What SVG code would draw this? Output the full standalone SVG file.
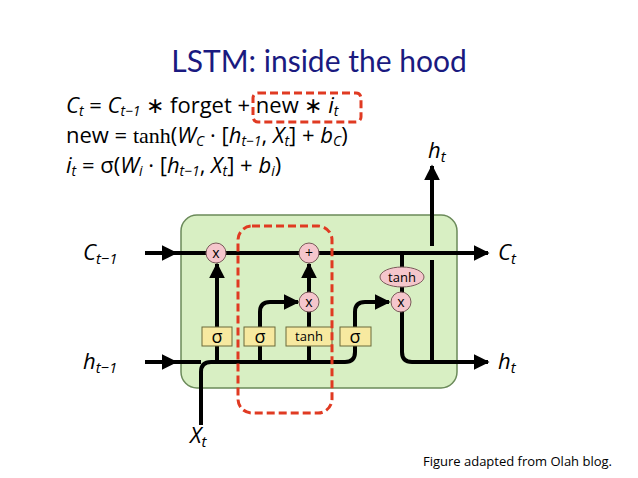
<svg xmlns="http://www.w3.org/2000/svg" width="638" height="478" viewBox="0 0 638 478">
<style>
.t{font-family:"Open Sans","Liberation Sans",sans-serif;fill:#000}
.i{font-style:italic}
.s{font-family:"Liberation Serif",serif}
.ln{fill:none;stroke:#000;stroke-width:4}
.op{fill:#f5c6cc;stroke:#7a5a5a;stroke-width:1}
.g{fill:#f7e9a0;stroke:#6a6a3a;stroke-width:1}
.d{fill:none;stroke:#e03a22;stroke-width:3;stroke-dasharray:8,4}
</style>
<defs><marker id="a" viewBox="0 0 10 10" refX="9" refY="5" markerWidth="4" markerHeight="4" orient="auto"><path d="M0,0L10,5L0,10z" fill="#000"/></marker></defs>
<rect width="638" height="478" fill="#fff"/>
<text x="319" y="72" text-anchor="middle" font-family="Lato,'Liberation Sans',sans-serif" font-size="30" fill="#1a1a80">LSTM: inside the hood</text>
<g id="formulas" class="t" font-size="22">
<text x="66" y="113"><tspan class="i">C<tspan font-size="14" dy="3">t</tspan></tspan><tspan dy="-3"> = </tspan><tspan class="i">C<tspan font-size="14" dy="3">t−1</tspan></tspan><tspan dy="-3"> ∗ forget + new ∗ </tspan><tspan class="i">i<tspan font-size="14" dy="3">t</tspan></tspan></text>
<text x="66" y="143">new = <tspan class="s">tanh</tspan>(<tspan class="i">W<tspan font-size="14" dy="3">C</tspan></tspan><tspan dy="-3"> · [</tspan><tspan class="i">h<tspan font-size="14" dy="3">t−1</tspan></tspan><tspan dy="-3">, </tspan><tspan class="i">X<tspan font-size="14" dy="3">t</tspan></tspan><tspan dy="-3">] + </tspan><tspan class="i">b<tspan font-size="14" dy="3">C</tspan></tspan><tspan dy="-3">)</tspan></text>
<text x="66" y="173"><tspan class="i">i<tspan font-size="14" dy="3">t</tspan></tspan><tspan dy="-3"> = σ(</tspan><tspan class="i">W<tspan font-size="14" dy="3">i</tspan></tspan><tspan dy="-3"> · [</tspan><tspan class="i">h<tspan font-size="14" dy="3">t−1</tspan></tspan><tspan dy="-3">, </tspan><tspan class="i">X<tspan font-size="14" dy="3">t</tspan></tspan><tspan dy="-3">] + </tspan><tspan class="i">b<tspan font-size="14" dy="3">i</tspan></tspan><tspan dy="-3">)</tspan></text>
</g>
<rect x="253" y="93" width="108" height="29" rx="5" class="d"/>
<rect id="cell" x="181" y="215" width="276" height="173" rx="16" fill="#d8efc3" stroke="#6b8a5a" stroke-width="1.5"/>
<g id="connectors">
<path class="ln" d="M145,253H176" marker-end="url(#a)"/>
<path class="ln" d="M176,253H488" marker-end="url(#a)"/>
<path class="ln" d="M145,362H176" marker-end="url(#a)"/>
<path class="ln" d="M201,425V372q0,-10 10,-10H345q10,0 10,-10V312q0,-10 10,-10h24" marker-end="url(#a)"/>
<path class="ln" d="M176,362H201"/>
<path class="ln" d="M217,362V264" marker-end="url(#a)"/>
<path class="ln" d="M260,362V312q0,-10 10,-10h28" marker-end="url(#a)"/>
<path class="ln" d="M309,362V311"/>
<path class="ln" d="M309,293V264" marker-end="url(#a)"/>
<path class="ln" d="M402,253V352q0,10 10,10H488" marker-end="url(#a)"/>
<path class="ln" d="M432,362V260"/>
<path class="ln" d="M432,246V166" marker-end="url(#a)"/>
</g>
<g id="ops" class="t" font-size="14" text-anchor="middle">
<circle class="op" cx="216" cy="253" r="10"/><text x="216" y="258">x</text>
<circle class="op" cx="309" cy="253" r="10"/><text x="309" y="258">+</text>
<circle class="op" cx="309" cy="302" r="10"/><text x="309" y="307">x</text>
<circle class="op" cx="401" cy="302" r="10"/><text x="401" y="307">x</text>
<ellipse class="op" cx="402" cy="277" rx="22" ry="10"/><text x="402" y="282" font-size="13">tanh</text>
</g>
<g id="gates" class="t" text-anchor="middle">
<rect class="g" x="202" y="327" width="30" height="19"/><text x="217" y="343" font-size="18">σ</text>
<rect class="g" x="244" y="327" width="31" height="19"/><text x="260" y="343" font-size="18">σ</text>
<rect class="g" x="286" y="327" width="46" height="19"/><text x="309" y="341" font-size="13">tanh</text>
<rect class="g" x="340" y="327" width="31" height="19"/><text x="355" y="343" font-size="18">σ</text>
</g>
<rect x="238" y="226" width="94" height="187" rx="14" class="d"/>
<g id="labels" class="t i" font-size="22">
<text x="83" y="260">C<tspan font-size="15" dy="4">t−1</tspan></text>
<text x="83" y="369">h<tspan font-size="15" dy="4">t−1</tspan></text>
<text x="498" y="260">C<tspan font-size="15" dy="4">t</tspan></text>
<text x="498" y="369">h<tspan font-size="15" dy="4">t</tspan></text>
<text x="428" y="158">h<tspan font-size="15" dy="4">t</tspan></text>
<text x="190" y="443">X<tspan font-size="15" dy="4">t</tspan></text>
</g>
<text x="612" y="466" text-anchor="end" class="t" font-size="13">Figure adapted from Olah blog.</text>
</svg>
